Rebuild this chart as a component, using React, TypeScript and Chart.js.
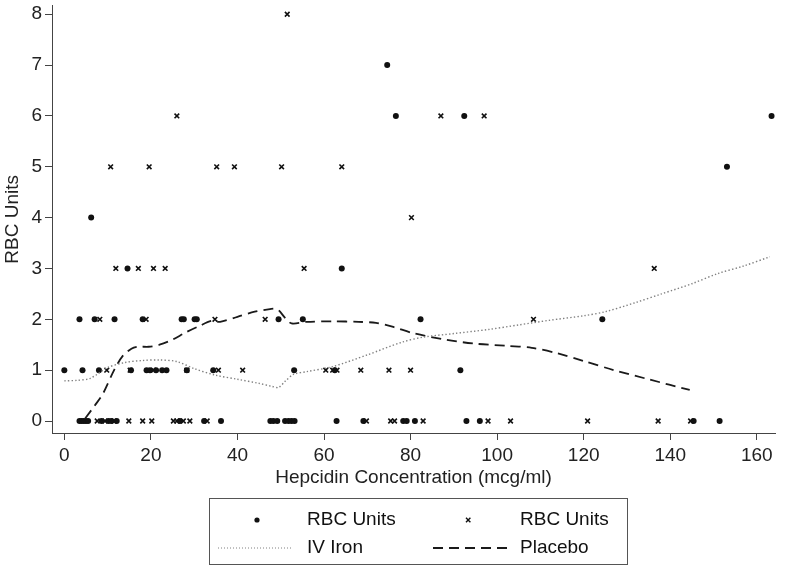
import React, { useEffect, useRef } from "react";
import { Chart, registerables } from "chart.js";

Chart.register(...registerables);

const FONT = "'Liberation Sans', Arial, Helvetica, sans-serif";

const xTickValues = [0, 20, 40, 60, 80, 100, 120, 140, 160];
const yTickValues = [0, 1, 2, 3, 4, 5, 6, 7, 8];

const xTitle = "Hepcidin Concentration (mcg/ml)";
const yTitle = "RBC Units";
const legendLabels = ["RBC Units", "RBC Units", "IV Iron", "Placebo"];

// IV Iron patients (filled dots)
const ironHepcidin = [
  3.5, 4.0, 4.5, 5.0, 5.5, 8.6, 10.2, 10.9, 12.1, 26.7, 32.3, 36.2, 47.6, 48.3,
  49.2, 51.0, 51.8, 52.5, 53.2, 62.9, 69.1, 78.3, 79.1, 81.0, 92.9, 96.0, 145.4, 151.4,
  0, 4.2, 8.0, 15.4, 19.0, 19.8, 21.2, 22.6, 23.6, 28.3, 34.4, 53.1, 62.5, 91.5,
  3.5, 7.0, 11.6, 18.1, 27.1, 27.6, 30.1, 30.6, 49.5, 55.1, 82.3, 124.3,
  14.6, 64.1,
  6.2,
  153.1,
  76.6, 92.4, 163.4,
  74.6,
];
const ironRbc = [
  0, 0, 0, 0, 0, 0, 0, 0, 0, 0, 0, 0, 0, 0,
  0, 0, 0, 0, 0, 0, 0, 0, 0, 0, 0, 0, 0, 0,
  1, 1, 1, 1, 1, 1, 1, 1, 1, 1, 1, 1, 1, 1,
  2, 2, 2, 2, 2, 2, 2, 2, 2, 2, 2, 2,
  3, 3,
  4,
  5,
  6, 6, 6,
  7,
];

// Placebo patients (x markers)
const placeboHepcidin = [
  7.6, 9.4, 11.5, 14.9, 18.1, 20.2, 25.2, 26.0, 27.5, 29.0, 33.0, 69.8, 75.4, 76.3,
  82.9, 97.9, 103.1, 120.9, 137.2, 144.7,
  9.8, 15.2, 20.6, 28.3, 35.6, 41.2, 60.4, 62.0, 63.0, 68.5, 75.0, 80.0,
  8.2, 18.9, 34.8, 46.4, 108.4,
  11.9, 17.1, 20.6, 23.3, 55.4, 136.3,
  80.2,
  10.7, 19.6, 35.2, 39.3, 50.2, 64.1,
  26.0, 87.0, 97.0,
  51.5,
];
const placeboRbc = [
  0, 0, 0, 0, 0, 0, 0, 0, 0, 0, 0, 0, 0, 0,
  0, 0, 0, 0, 0, 0,
  1, 1, 1, 1, 1, 1, 1, 1, 1, 1, 1, 1,
  2, 2, 2, 2, 2,
  3, 3, 3, 3, 3, 3,
  4,
  5, 5, 5, 5, 5, 5,
  6, 6, 6,
  8,
];

// Smoothed curves
const ironFitX = [0, 3, 6, 10, 14, 18, 22, 26, 30, 35, 40, 45, 48, 49.5, 51, 53, 56, 62, 70, 78, 83, 90, 98, 105, 112, 120, 125, 132, 138, 145, 151, 157, 163];
const ironFitY = [0.79, 0.8, 0.84, 1.05, 1.15, 1.19, 1.2, 1.17, 1.03, 0.9, 0.82, 0.74, 0.68, 0.66, 0.78, 0.92, 0.97, 1.07, 1.3, 1.55, 1.65, 1.72, 1.8, 1.89, 1.98, 2.07, 2.15, 2.33, 2.5, 2.7, 2.9, 3.05, 3.23];

const placeboFitX = [4.8, 7, 9, 11.5, 13.5, 15.5, 17, 19.5, 22, 25, 28, 31, 34, 36, 40, 44, 47.5, 49.2, 51, 52.5, 56, 62, 68, 72, 76, 80.5, 88, 95, 102, 108, 114, 120, 127, 135, 144.5];
const placeboFitY = [0.05, 0.3, 0.55, 1.0, 1.28, 1.42, 1.46, 1.46, 1.5, 1.6, 1.74, 1.86, 1.97, 1.95, 2.05, 2.15, 2.2, 2.2, 2.03, 1.92, 1.95, 1.96, 1.95, 1.93, 1.85, 1.73, 1.6, 1.52, 1.48, 1.44, 1.33, 1.18, 1.0, 0.82, 0.61];

const toPoints = (xs: number[], ys: number[]) => xs.map((x, i) => ({ x, y: ys[i] }));

const DOT_COLOR = "#111";
const IRON_LINE = "#808080";
const PLACEBO_LINE = "#1a1a1a";
const AXIS_COLOR = "#444";
const FONT_SIZE = 19;

const legendPlugin = {
  id: "stataLegend",
  afterDraw(chart: any) {
    const ctx = chart.ctx as CanvasRenderingContext2D;
    ctx.save();
    ctx.strokeStyle = "#555";
    ctx.lineWidth = 1;
    ctx.strokeRect(209.5, 498.5, 418, 66);

    ctx.font = `${FONT_SIZE}px ${FONT}`;
    ctx.fillStyle = "#111";
    ctx.textBaseline = "middle";
    ctx.textAlign = "left";
    const row1 = 520;
    const row2 = 548;

    ctx.beginPath();
    ctx.arc(257, row1, 2.6, 0, Math.PI * 2);
    ctx.fill();
    ctx.fillText(legendLabels[0], 307, row1);

    ctx.strokeStyle = DOT_COLOR;
    ctx.lineWidth = 1.4;
    ctx.beginPath();
    ctx.moveTo(466, row1 - 2.2);
    ctx.lineTo(470.4, row1 + 2.2);
    ctx.moveTo(470.4, row1 - 2.2);
    ctx.lineTo(466, row1 + 2.2);
    ctx.stroke();
    ctx.fillText(legendLabels[1], 520, row1);

    ctx.strokeStyle = IRON_LINE;
    ctx.lineWidth = 1;
    ctx.setLineDash([1, 2]);
    ctx.beginPath();
    ctx.moveTo(218, row2);
    ctx.lineTo(293, row2);
    ctx.stroke();
    ctx.fillText(legendLabels[2], 307, row2);

    ctx.strokeStyle = PLACEBO_LINE;
    ctx.lineWidth = 1.8;
    ctx.setLineDash([10, 6]);
    ctx.beginPath();
    ctx.moveTo(433, row2);
    ctx.lineTo(508, row2);
    ctx.stroke();
    ctx.setLineDash([]);
    ctx.fillText(legendLabels[3], 520, row2);
    ctx.restore();
  },
};

export default function App() {
  const canvasRef = useRef<HTMLCanvasElement | null>(null);

  useEffect(() => {
    if (!canvasRef.current) return;
    Chart.defaults.font.family = FONT;
    const chart = new Chart(canvasRef.current, {
      type: "scatter",
      data: {
        datasets: [
          {
            label: "IV Iron fit",
            data: toPoints(ironFitX, ironFitY),
            showLine: true,
            borderColor: IRON_LINE,
            borderWidth: 1.4,
            borderDash: [1.4, 2.2],
            pointRadius: 0,
            tension: 0.3,
            fill: false,
          } as any,
          {
            label: "Placebo fit",
            data: toPoints(placeboFitX, placeboFitY),
            showLine: true,
            borderColor: PLACEBO_LINE,
            borderWidth: 1.8,
            borderDash: [10, 6],
            pointRadius: 0,
            tension: 0.3,
            fill: false,
          } as any,
          {
            label: "RBC Units (IV Iron)",
            data: toPoints(ironHepcidin, ironRbc),
            pointStyle: "circle",
            pointRadius: 3,
            backgroundColor: DOT_COLOR,
            borderColor: DOT_COLOR,
            borderWidth: 0,
          },
          {
            label: "RBC Units (Placebo)",
            data: toPoints(placeboHepcidin, placeboRbc),
            pointStyle: "crossRot",
            pointRadius: 3.3,
            borderColor: DOT_COLOR,
            borderWidth: 1.6,
          },
        ],
      },
      options: {
        animation: false,
        responsive: true,
        maintainAspectRatio: false,
        layout: { padding: { top: 1, right: 12, bottom: 74, left: 0 } },
        plugins: {
          legend: { display: false },
          tooltip: { enabled: false },
        },
        scales: {
          x: {
            type: "linear",
            min: -2.85,
            max: 164.2,
            afterBuildTicks: (scale: any) => {
              scale.ticks = xTickValues.map((v) => ({ value: v }));
            },
            afterFit: (scale: any) => {
              scale.height = 60;
              scale.paddingLeft = 0;
              scale.paddingRight = 0;
            },
            ticks: {
              autoSkip: false,
              maxRotation: 0,
              padding: 4,
              color: "#222",
              font: { size: FONT_SIZE, family: FONT },
            },
            grid: {
              display: true,
              drawOnChartArea: false,
              drawTicks: true,
              tickLength: 7,
              color: AXIS_COLOR,
            },
            border: { display: true, color: AXIS_COLOR, width: 1 },
            title: {
              display: true,
              text: xTitle,
              color: "#222",
              font: { size: FONT_SIZE, family: FONT },
              padding: { top: 4, bottom: 4 },
            },
          },
          y: {
            type: "linear",
            min: -0.236,
            max: 8.17,
            afterBuildTicks: (scale: any) => {
              scale.ticks = yTickValues.map((v) => ({ value: v }));
            },
            afterFit: (scale: any) => {
              scale.width = 52;
              scale.paddingTop = 0;
              scale.paddingBottom = 0;
            },
            ticks: {
              autoSkip: false,
              padding: 3,
              color: "#222",
              font: { size: FONT_SIZE, family: FONT },
            },
            grid: {
              display: true,
              drawOnChartArea: false,
              drawTicks: true,
              tickLength: 7,
              color: AXIS_COLOR,
            },
            border: { display: true, color: AXIS_COLOR, width: 1 },
            title: {
              display: true,
              text: yTitle,
              color: "#222",
              font: { size: FONT_SIZE, family: FONT },
              padding: { top: 1, bottom: 1 },
            },
          },
        },
      },
      plugins: [legendPlugin],
    });
    return () => chart.destroy();
  }, []);

  return (
    <div
      style={{
        position: "fixed",
        left: 0,
        top: 0,
        width: 787,
        height: 567,
        background: "#fff",
      }}
    >
      <canvas ref={canvasRef} />
    </div>
  );
}
